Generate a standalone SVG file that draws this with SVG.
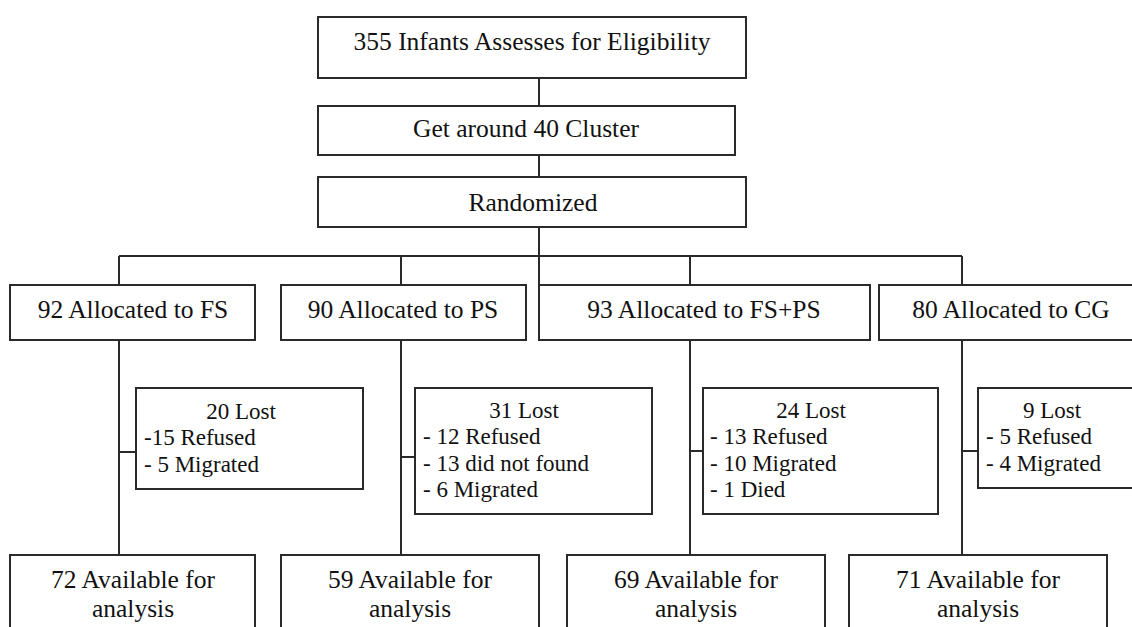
<svg xmlns="http://www.w3.org/2000/svg" width="1132" height="627" viewBox="0 0 1132 627" font-family="Liberation Serif, Times New Roman, Tinos, Noto Serif, DejaVu Serif, serif">
<style>
.box{fill:#fff;stroke:#2a2a2a;stroke-width:2}
.ln{stroke:#2a2a2a;stroke-width:2;fill:none}
.t{font-family:"Liberation Serif","Times New Roman",Tinos,"Noto Serif","DejaVu Serif",serif;font-size:25.5px;text-anchor:middle;fill:#111}
.s{font-family:"Liberation Serif","Times New Roman",Tinos,"Noto Serif","DejaVu Serif",serif;font-size:23px;fill:#111}
.sc{font-family:"Liberation Serif","Times New Roman",Tinos,"Noto Serif","DejaVu Serif",serif;font-size:23px;text-anchor:middle;fill:#111}
</style>
<rect width="1132" height="627" fill="#fff"/>
<g id="connectors">
<path class="ln" d="M539 78V106M539 155V177M539 227V285M119 256H962M119 256V285M401 256V285M690 256V285M962 256V285"/>
<path class="ln" d="M119 340V555M119 452H136"/>
<path class="ln" d="M401 340V555M401 457H415"/>
<path class="ln" d="M690 340V555M690 451H703"/>
<path class="ln" d="M962 340V555M962 451H978"/>
</g>
<g id="n_assess"><rect class="box" x="318" y="17" width="428" height="61"/><text class="t" x="532" y="50">355 Infants Assesses for Eligibility</text></g>
<g id="n_cluster"><rect class="box" x="318" y="106" width="417" height="49"/><text class="t" x="526" y="137">Get around 40 Cluster</text></g>
<g id="n_random"><rect class="box" x="318" y="177" width="428" height="50"/><text class="t" x="533" y="211">Randomized</text></g>
<g id="n_fs"><rect class="box" x="10" y="285" width="245" height="55"/><text class="t" x="133" y="318">92 Allocated to FS</text></g>
<g id="n_ps"><rect class="box" x="281" y="285" width="245" height="55"/><text class="t" x="403" y="318">90 Allocated to PS</text></g>
<g id="n_fsps"><rect class="box" x="539" y="285" width="331" height="55"/><text class="t" x="704" y="318">93 Allocated to FS+PS</text></g>
<g id="n_cg"><rect class="box" x="879" y="285" width="264" height="55"/><text class="t" x="1011" y="318">80 Allocated to CG</text></g>
<g id="n_lost1"><rect class="box" x="136" y="388" width="227" height="101"/><text class="sc" x="241" y="419">20 Lost</text><text class="s" x="144" y="445">-15 Refused</text><text class="s" x="144" y="472">- 5 Migrated</text></g>
<g id="n_lost2"><rect class="box" x="415" y="388" width="237" height="126"/><text class="sc" x="524" y="418">31 Lost</text><text class="s" x="423" y="444">- 12 Refused</text><text class="s" x="423" y="471">- 13 did not found</text><text class="s" x="423" y="497">- 6 Migrated</text></g>
<g id="n_lost3"><rect class="box" x="703" y="388" width="235" height="126"/><text class="sc" x="811" y="418">24 Lost</text><text class="s" x="710" y="444">- 13 Refused</text><text class="s" x="710" y="471">- 10 Migrated</text><text class="s" x="710" y="497">- 1 Died</text></g>
<g id="n_lost4"><rect class="box" x="978" y="388" width="170" height="100"/><text class="sc" x="1052" y="418">9 Lost</text><text class="s" x="986" y="444">- 5 Refused</text><text class="s" x="986" y="471">- 4 Migrated</text></g>
<g id="n_av1"><rect class="box" x="10" y="555" width="245" height="80"/><text class="t" x="133" y="588">72 Available for</text><text class="t" x="133" y="617">analysis</text></g>
<g id="n_av2"><rect class="box" x="281" y="555" width="258" height="80"/><text class="t" x="410" y="588">59 Available for</text><text class="t" x="410" y="617">analysis</text></g>
<g id="n_av3"><rect class="box" x="567" y="555" width="258" height="80"/><text class="t" x="696" y="588">69 Available for</text><text class="t" x="696" y="617">analysis</text></g>
<g id="n_av4"><rect class="box" x="849" y="555" width="258" height="80"/><text class="t" x="978" y="588">71 Available for</text><text class="t" x="978" y="617">analysis</text></g>
</svg>
